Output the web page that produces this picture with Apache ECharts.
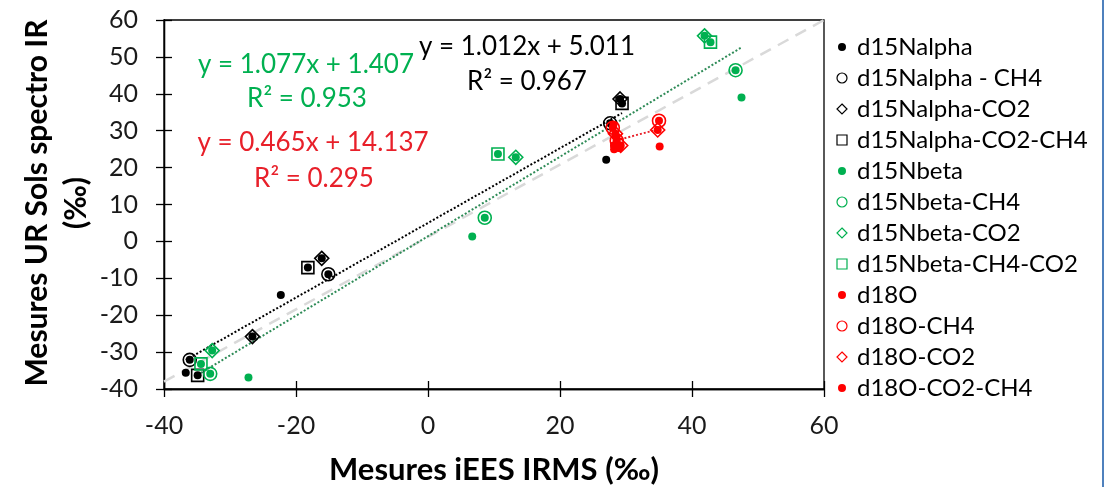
<!DOCTYPE html>
<html><head><meta charset="utf-8">
<script src="https://cdn.jsdelivr.net/npm/echarts@6/dist/echarts.min.js"></script>
<style>html,body{margin:0;padding:0;background:#fff}#c{width:1114px;height:487px}</style>
</head><body><div id="c"></div><script>
// ---- axes ----
const X_RANGE = [-40, 60, 20];
const Y_RANGE = [-40, 60, 10];

// ---- series values [x, y] ----
const d15Nalpha        = [[-36.7,-35.6],[-36.1,-32.1],[-34.9,-36.3],[-26.6,-25.8],[-22.3,-14.5],[-18.2,-7.1],[-16.1,-4.6],[-15.1,-8.9],[27.0,22.1],[27.6,32.0],[29.1,38.6],[29.4,37.4]];
const d15Nalpha_CH4    = [[-36.1,-32.1],[-15.1,-8.9],[27.6,32.0]];
const d15Nalpha_CO2    = [[-26.6,-25.8],[-16.1,-4.6],[29.1,38.6]];
const d15Nalpha_CO2CH4 = [[-34.9,-36.3],[-18.2,-7.1],[29.4,37.4]];
const d15Nbeta         = [[-34.4,-33.2],[-33.0,-35.9],[-32.7,-29.6],[-27.2,-36.9],[6.7,1.3],[8.6,6.4],[10.6,23.7],[13.3,22.8],[41.9,55.7],[42.8,54.0],[46.6,46.4],[47.5,39.0]];
const d15Nbeta_CH4     = [[-33.0,-35.9],[8.6,6.4],[46.6,46.4]];
const d15Nbeta_CO2     = [[-32.7,-29.6],[13.3,22.8],[41.9,55.7]];
const d15Nbeta_CH4CO2  = [[-34.4,-33.2],[10.6,23.7],[42.8,54.0]];
const d18O             = [[28.2,25.0],[28.0,30.8],[28.6,27.3],[28.4,29.2],[29.2,26.0],[28.5,28.3],[28.2,26.0],[29.0,25.3],[28.1,31.6],[35.0,32.7],[34.8,30.2],[35.1,25.7]];
const d18O_CH4         = [[28.0,30.8],[28.6,27.3],[35.0,32.7]];
const d18O_CO2         = [[28.4,29.2],[29.2,26.0],[34.8,30.2]];
const d18O_CO2CH4      = [[28.5,28.3],[28.2,26.0],[29.0,25.3]];

// ---- trend lines: [slope, intercept, xFrom, xTo] ----
const trendAlpha = [1.012, 5.011, -36.7, 29.4];
const trendBeta  = [1.077, 1.407, -34.4, 47.5];
const trendO     = [0.465, 14.137, 28.0, 35.1];
const refLine    = [[-40,-38],[60,60]];

// ---- labels ----
const eqAlpha = ['y = 1.012x + 5.011', 'R² = 0.967'];
const eqBeta  = ['y = 1.077x + 1.407', 'R² = 0.953'];
const eqO     = ['y = 0.465x + 14.137', 'R² = 0.295'];
const xTitle = 'Mesures iEES IRMS (‰)';
const yTitle = ['Mesures UR Sols spectro IR', '(‰)'];

const FONT = 'Lato';
const BLACK = '#000000', GREEN = '#00B050', RED = '#FF0000';

function trend(t){ return [[t[2], t[0]*t[2]+t[1]], [t[3], t[0]*t[3]+t[1]]]; }

const markers = [
  ['d15Nalpha', d15Nalpha, 'circle', BLACK, true],
  ['d15Nalpha - CH4', d15Nalpha_CH4, 'circle', BLACK, false],
  ['d15Nalpha-CO2', d15Nalpha_CO2, 'diamond', BLACK, false],
  ['d15Nalpha-CO2-CH4', d15Nalpha_CO2CH4, 'rect', BLACK, false],
  ['d15Nbeta', d15Nbeta, 'circle', GREEN, true],
  ['d15Nbeta-CH4', d15Nbeta_CH4, 'circle', GREEN, false],
  ['d15Nbeta-CO2', d15Nbeta_CO2, 'diamond', GREEN, false],
  ['d15Nbeta-CH4-CO2', d15Nbeta_CH4CO2, 'rect', GREEN, false],
  ['d18O', d18O, 'circle', RED, true],
  ['d18O-CH4', d18O_CH4, 'circle', RED, false],
  ['d18O-CO2', d18O_CO2, 'diamond', RED, false],
  ['d18O-CO2-CH4', d18O_CO2CH4, 'circle', RED, true]
];
const sizeOf = {circle:13, diamond:14, rect:12};

const series = [
  {type:'line', data:refLine, symbol:'none', silent:true, z:1,
   lineStyle:{color:'#D9D9D9', width:2.5, type:[12,8]}},
  {type:'line', data:trend(trendAlpha), symbol:'none', silent:true, z:1,
   lineStyle:{color:'#000', width:2, type:[2,2]}},
  {type:'line', data:trend(trendBeta), symbol:'none', silent:true, z:1,
   lineStyle:{color:'#2E8B57', width:2, type:[2,2]}},
  {type:'line', data:trend(trendO), symbol:'none', silent:true, z:1,
   lineStyle:{color:'#E8202A', width:2, type:[2,2]}}
];
markers.forEach(m => {
  series.push({
    type:'scatter', name:m[0], data:m[1], symbol:m[2], z:3,
    symbolSize: m[4] ? 8 : sizeOf[m[2]],
    itemStyle: m[4] ? {color:m[3], opacity:1} : {color:'rgba(0,0,0,0)', borderColor:m[3], borderWidth:1.6, opacity:1},
    emphasis:{disabled:true}, silent:true
  });
});
const legendData = markers.map(m => ({
  name:m[0], icon:m[2],
  itemStyle: m[4] ? {color:m[3], borderColor:'#fff', borderWidth:2} : {color:'#fff', borderColor:m[3], borderWidth:1.2}
}));

function txt(x, y, s, color, size, bold, rot){
  return {type:'text', x:x, y:y, rotation:rot||0, silent:true,
    style:{text:s, fill:color, font:(bold?'bold ':'')+size+'px '+FONT, textAlign:'center', textVerticalAlign:'middle'}};
}

const axisCommon = {
  axisLine:{show:true, onZero:false, lineStyle:{color:'#000', width:1.3}},
  splitLine:{show:false}
};
const option = {
  animation:false,
  backgroundColor:'#fff',
  grid:{left:164, right:290, top:20, bottom:98, show:true, borderColor:'#000', borderWidth:1.3},
  xAxis:[
    Object.assign({type:'value', min:X_RANGE[0], max:X_RANGE[1], interval:X_RANGE[2],
      axisTick:{show:true, length:8, lineStyle:{color:'#000', width:1.3}},
      axisLabel:{fontFamily:FONT, fontSize:25, color:'#1a1a1a', margin:24}}, axisCommon),
    Object.assign({type:'value', min:X_RANGE[0], max:X_RANGE[1], interval:X_RANGE[2], position:'bottom',
      axisTick:{show:true, inside:true, length:8, lineStyle:{color:'#000', width:1.3}},
      axisLabel:{show:false}}, axisCommon)
  ],
  yAxis:[
    Object.assign({type:'value', min:Y_RANGE[0], max:Y_RANGE[1], interval:Y_RANGE[2],
      axisTick:{show:true, length:8, lineStyle:{color:'#000', width:1.3}},
      axisLabel:{fontFamily:FONT, fontSize:25, color:'#1a1a1a', margin:26}}, axisCommon),
    Object.assign({type:'value', min:Y_RANGE[0], max:Y_RANGE[1], interval:Y_RANGE[2], position:'left',
      axisTick:{show:true, inside:true, length:8, lineStyle:{color:'#000', width:1.3}},
      axisLabel:{show:false}}, axisCommon)
  ],
  legend:{
    orient:'vertical', left:831, top:30, itemWidth:10, itemHeight:10, itemGap:7,
    selectedMode:false, data:legendData,
    textStyle:{fontFamily:FONT, fontSize:24, color:'#000', lineHeight:24, padding:[0,0,0,5]}
  },
  series: series,
  graphic:[
    txt(306, 65, eqBeta[0], GREEN, 26),
    txt(307, 99, eqBeta[1], GREEN, 26),
    txt(527, 47, eqAlpha[0], '#000', 26),
    txt(527, 82, eqAlpha[1], '#000', 26),
    txt(313, 143, eqO[0], '#E8202A', 26),
    txt(314, 179, eqO[1], '#E8202A', 26),
    txt(494, 470, xTitle, '#000', 31, true),
    txt(37, 203, yTitle[0], '#000', 30, true, Math.PI/2),
    txt(76, 203, yTitle[1], '#000', 30, true, Math.PI/2),
    {type:'line', silent:true, shape:{x1:1103, y1:0, x2:1103, y2:487}, style:{stroke:'#4F81BD', lineWidth:2}}
  ]
};
const chart = echarts.init(document.getElementById('c'), null, {renderer:'canvas'});
chart.setOption(option);
</script></body></html>
